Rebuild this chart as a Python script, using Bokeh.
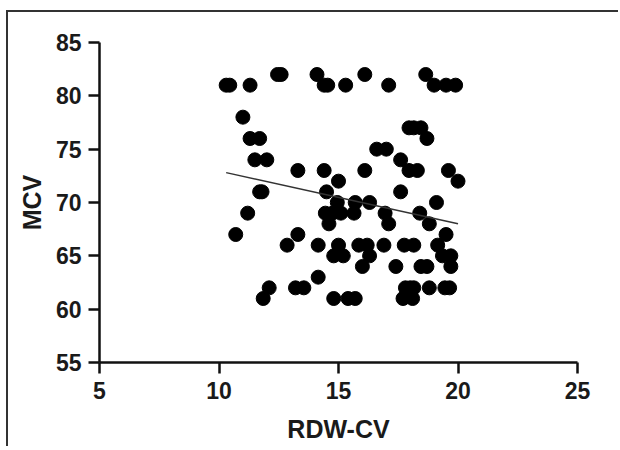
from bokeh.plotting import figure
from bokeh.models import Range1d, FixedTicker
from bokeh.embed import file_html
from bokeh.resources import INLINE

# RDW-CV (x) and MCV (y) values, grouped by MCV row
rdw_cv = [
    12.45, 12.6, 14.1, 16.1, 18.65,                          # 82
    10.3, 10.45, 11.3, 14.4, 14.55, 15.3, 17.1, 19.0, 19.5, 19.9,  # 81
    11.0,                                                    # 78
    17.95, 18.15, 18.45,                                     # 77
    11.3, 11.7, 18.7,                                        # 76
    16.6, 17.0,                                              # 75
    11.5, 12.0, 17.6,                                        # 74
    13.3, 14.4, 16.1, 17.95, 18.3, 19.6,                     # 73
    15.0, 20.0,                                              # 72
    11.7, 11.8, 14.5, 17.6,                                  # 71
    14.95, 15.7, 16.3, 19.1,                                 # 70
    11.2, 14.45, 14.75, 15.1, 15.65, 16.95, 18.4,            # 69
    14.6, 17.1, 18.8,                                        # 68
    10.7, 13.3, 19.5,                                        # 67
    12.85, 14.15, 15.0, 15.85, 16.2, 16.9, 17.75, 18.15, 19.15,  # 66
    14.8, 15.2, 16.3, 19.35, 19.7,                           # 65
    16.0, 17.4, 18.45, 18.7, 19.7,                           # 64
    14.15,                                                   # 63
    12.1, 13.2, 13.55, 17.8, 18.0, 18.15, 18.8, 19.45, 19.65,  # 62
    11.85, 14.8, 15.4, 15.7, 17.7, 18.1,                     # 61
]
mcv = (
    [82] * 5 + [81] * 10 + [78] * 1 + [77] * 3 + [76] * 3 + [75] * 2 +
    [74] * 3 + [73] * 6 + [72] * 2 + [71] * 4 + [70] * 4 + [69] * 7 +
    [68] * 3 + [67] * 3 + [66] * 9 + [65] * 5 + [64] * 5 + [63] * 1 +
    [62] * 9 + [61] * 6
)

x_ticks = [5, 10, 15, 20, 25]
y_ticks = [55, 60, 65, 70, 75, 80, 85]

# regression line end points
fit_x = [10.3, 20.0]
fit_y = [72.8, 68.0]

FONT = "Liberation Sans"

p = figure(
    width=612, height=436,
    x_range=Range1d(5, 25), y_range=Range1d(55, 85),
    output_backend="svg", toolbar_location=None,
    min_border_left=91, min_border_right=43,
    min_border_top=30, min_border_bottom=86,
    x_axis_label="RDW-CV", y_axis_label="MCV",
)
p.styles = {
    "margin-left": "6px", "margin-top": "10px",
    "border-left": "2px solid #333333", "border-top": "2px solid #333333",
}
p.outline_line_color = None
p.xgrid.grid_line_color = None
p.ygrid.grid_line_color = None
p.background_fill_color = "white"
p.border_fill_color = "white"

p.scatter(rdw_cv, mcv, size=14, color="black", line_color="black")
p.line(fit_x, fit_y, line_color="#333333", line_width=1.5)

for ax, ticks in ((p.xaxis[0], x_ticks), (p.yaxis[0], y_ticks)):
    ax.ticker = FixedTicker(ticks=ticks)
    ax.minor_tick_line_color = None
    ax.axis_line_width = 2.5
    ax.axis_line_color = "#111111"
    ax.major_tick_line_width = 2.5
    ax.major_tick_line_color = "#111111"
    ax.major_tick_out = 11
    ax.major_tick_in = 0
    ax.major_label_text_font = FONT
    ax.major_label_text_font_style = "bold"
    ax.major_label_text_font_size = "23px"
    ax.major_label_text_color = "#1a1a1a"
    ax.axis_label_text_font = FONT
    ax.axis_label_text_font_style = "bold"
    ax.axis_label_text_font_size = "25px"
    ax.axis_label_text_color = "#1a1a1a"

p.xaxis.major_label_standoff = 8
p.xaxis.axis_label_standoff = 13
p.yaxis.major_label_standoff = 7
p.yaxis.axis_label_standoff = 7

open("out.html", "w").write(file_html(p, INLINE))
